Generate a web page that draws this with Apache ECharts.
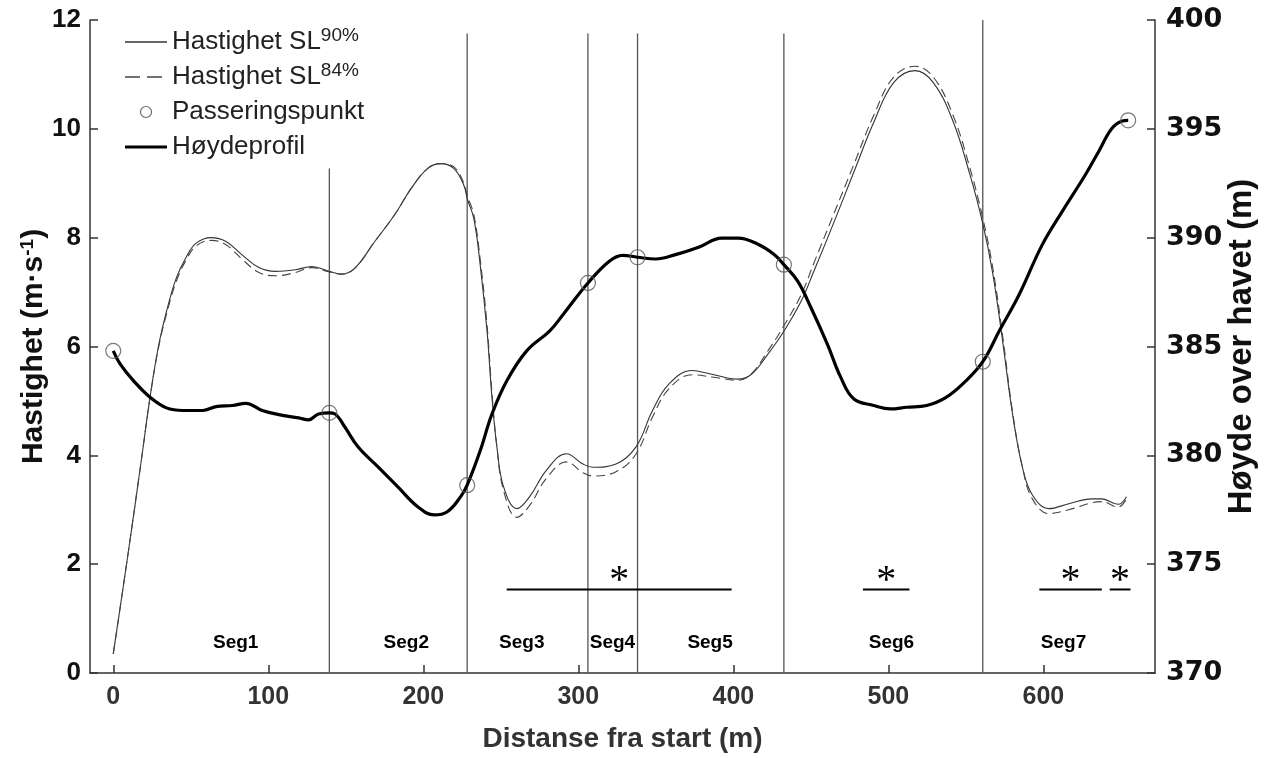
<!DOCTYPE html>
<html><head><meta charset="utf-8">
<script src="https://cdn.jsdelivr.net/npm/echarts@6/dist/echarts.min.js"></script>
<style>html,body{margin:0;padding:0;background:#fff}#c{width:1266px;height:758px}</style>
</head><body><div id="c"></div>
<script>
// ---- data ----
const distV = [0,9.6,18.4,23.7,29,34.4,40.7,47.2,53.5,63.2,72.7,83.3,94,104.7,117.5,128.1,139.4,147.3,155.9,168.7,181.5,192.1,202.7,211.3,219.8,226.2,228.3,232.6,236.7,241.1,244.3,247.5,251.8,260.3,268.6,279.5,292.3,303,309.4,324.3,337.1,347.8,358.4,373.3,386.1,403.1,411.7,422.3,432.6,443.7,452.2,465,477.8,490.6,503.4,517.2,529,541.7,552.4,560.9,567.3,573.7,580.1,586.5,592.9,603.6,616.4,631.3,637.5,648.3,653.6];
const sl90 = [0.35,2.2,3.97,5.06,5.98,6.65,7.26,7.65,7.9,8.0,7.93,7.68,7.45,7.38,7.41,7.47,7.38,7.33,7.44,7.93,8.42,8.9,9.27,9.36,9.27,8.96,8.72,8.35,7.5,6.29,5.06,4.15,3.42,3.02,3.24,3.73,4.03,3.84,3.78,3.84,4.15,4.82,5.31,5.56,5.49,5.4,5.49,5.86,6.28,6.83,7.4,8.29,9.21,10.12,10.85,11.07,10.85,10.14,9.18,8.26,7.35,6.1,4.76,3.78,3.27,3.02,3.11,3.2,3.2,3.1,3.24];
const sl84 = [0.35,2.2,3.97,5.06,5.95,6.6,7.2,7.6,7.85,7.95,7.87,7.6,7.36,7.3,7.36,7.45,7.37,7.33,7.44,7.93,8.42,8.9,9.27,9.36,9.3,9.0,8.78,8.42,7.6,6.4,5.15,4.15,3.35,2.86,3.08,3.58,3.88,3.68,3.62,3.7,4.02,4.7,5.22,5.48,5.44,5.38,5.5,5.92,6.38,6.95,7.55,8.45,9.35,10.25,10.95,11.15,10.95,10.25,9.3,8.36,7.45,6.2,4.8,3.78,3.2,2.93,3.0,3.13,3.15,3.05,3.2];
const distH = [0,4.5,13,23.7,34.3,45,57.8,66.3,76.9,85.5,96.1,106.8,119.6,126,132.4,139.4,143.1,149.5,158,170.8,183.6,196.4,207,215.5,224,228.3,236.8,244.3,253.9,266.7,281.6,290.2,306.2,320,328.6,338.2,349.9,362.7,377.6,392.5,403.1,415.9,426.5,432.6,441.5,450.1,460.7,469.3,477.8,490.6,501.2,511.9,524.7,537.5,550.2,560.9,571.6,584.4,599.3,612.1,627,635.6,644,650.4,654.7];
const hoyde = [384.8,384.19,383.43,382.67,382.18,382.06,382.06,382.24,382.29,382.39,382.06,381.87,381.72,381.63,381.9,381.95,381.9,381.29,380.38,379.47,378.55,377.64,377.26,377.41,378.09,378.63,380.23,381.9,383.43,384.8,385.72,386.47,387.92,388.92,389.19,389.1,389.02,389.22,389.56,389.98,389.98,389.7,389.22,388.76,388.0,386.78,385.1,383.58,382.59,382.29,382.13,382.21,382.29,382.67,383.43,384.3,385.72,387.39,389.68,391.2,392.88,393.95,395.0,395.35,395.39];
const passDist = [0,139.4,228.3,306.2,338.2,432.6,560.9,654.7];
const passHoyde = [384.8,381.95,378.63,387.92,389.1,388.76,384.3,395.39];
const segBounds = [139.4,228.3,306.2,338.2,432.6,560.9];
const segTops = [9.27,11.75,11.75,11.75,11.75,12];
const segNames = ['Seg1','Seg2','Seg3','Seg4','Seg5','Seg6','Seg7'];
const segNameX = [79,189,263.5,322,385,502,613];
const segNameY = 0.55;
const sigStart = [253.8,483.6,597.4,642.8];
const sigEnd = [398.9,513.6,637.7,656.2];
const sigY = 1.535;
const xTicks = [0,100,200,300,400,500,600];

// ---- chart ----
const FONT = 'Liberation Sans, Arial, sans-serif';
const chart = echarts.init(document.getElementById('c'), null, {renderer:'canvas'});
const zip = (a,b) => a.map((v,i)=>[v,b[i]]);

const option = {
  animation:false,
  backgroundColor:'#fff',
  grid:{left:90,right:103,top:20,bottom:81,containLabel:false},
  legend:{
    orient:'vertical', left:120, top:21, itemWidth:42, itemHeight:11, itemGap:6,
    itemStyle:{borderWidth:0},
    data:[
      {name:'Hastighet SL90',icon:'path://M0,0H42V1.3H0Z'},
      {name:'Hastighet SL84',icon:'path://M0,0H15V1.3H0Z M22,0H37V1.3H22Z M41.9,0H42V0.01H41.9Z'},
      {name:'Passeringspunkt',icon:'circle',itemStyle:{color:'rgba(0,0,0,0)',borderColor:'#444',borderWidth:1.2}},
      {name:'Høydeprofil',icon:'path://M0,0H42V3.2H0Z'}
    ],
    formatter:function(name){
      if(name.indexOf('Hastighet SL')===0){return '{t|Hastighet SL}{s|'+name.slice(12)+'%}';}
      return '{t|'+name+'}{s| }';
    },
    textStyle:{
      fontFamily:FONT,color:'#222',fontSize:26,
      rich:{
        t:{fontFamily:FONT,color:'#222',fontSize:26,lineHeight:32},
        s:{fontFamily:FONT,color:'#222',fontSize:19,lineHeight:14,verticalAlign:'top'}
      }
    }
  },
  xAxis:{
    type:'value',min:-15,max:672,
    axisLine:{show:true,onZero:false,lineStyle:{color:'#333',width:1.5}},
    axisTick:{show:true,inside:true,length:8,customValues:xTicks,lineStyle:{color:'#333',width:1.5}},
    axisLabel:{customValues:xTicks,fontFamily:FONT,fontWeight:'bold',fontSize:25,color:'#333',margin:12},
    splitLine:{show:false},
    name:'Distanse fra start (m)',nameLocation:'middle',nameGap:52,nameMoveOverlap:false,
    nameTextStyle:{fontFamily:FONT,fontWeight:'bold',fontSize:28,color:'#333'}
  },
  yAxis:[{
    type:'value',min:0,max:12,interval:2,position:'left',
    axisLine:{show:true,onZero:false,lineStyle:{color:'#333',width:1.5}},
    axisTick:{show:true,inside:true,length:8,lineStyle:{color:'#333',width:1.5}},
    axisLabel:{fontFamily:FONT,fontWeight:'bold',fontSize:26,color:'#111',margin:9},
    splitLine:{show:false},
    name:'{a|Hastighet (m·s}{s|-1}{a|)}',nameLocation:'middle',nameGap:40,nameRotate:90,nameMoveOverlap:false,
    nameTextStyle:{rich:{
      a:{fontFamily:FONT,fontWeight:'bold',fontSize:30,color:'#111',lineHeight:32},
      s:{fontFamily:FONT,fontWeight:'bold',fontSize:19,color:'#111',lineHeight:16,verticalAlign:'top'}
    }}
  },{
    type:'value',min:370,max:400,interval:5,position:'right',
    axisLine:{show:true,onZero:false,lineStyle:{color:'#333',width:1.5}},
    axisTick:{show:true,inside:true,length:8,lineStyle:{color:'#333',width:1.5}},
    axisLabel:{fontFamily:'DejaVu Sans, Liberation Sans, sans-serif',fontWeight:'bold',fontSize:27,color:'#111',margin:11},
    splitLine:{show:false},
    name:'Høyde over havet (m)',nameLocation:'middle',nameGap:70,nameRotate:90,nameMoveOverlap:false,
    nameTextStyle:{fontFamily:FONT,fontWeight:'bold',fontSize:33,color:'#111'}
  }],
  series:[
    {
      type:'custom',name:'segLines',yAxisIndex:0,silent:true,z:1,
      data:zip(segBounds,segTops),
      renderItem:function(params,api){
        const p0=api.coord([api.value(0),0]);const p1=api.coord([api.value(0),api.value(1)]);
        return {type:'line',shape:{x1:p0[0],y1:p0[1],x2:p1[0],y2:p1[1]},style:{stroke:'#555',lineWidth:1.3}};
      }
    },
    {
      type:'custom',name:'segNames',yAxisIndex:0,silent:true,z:3,
      data:segNameX.map((x,i)=>[x,segNameY]),
      renderItem:function(params,api){
        const p=api.coord([api.value(0),api.value(1)]);
        return {type:'text',x:p[0],y:p[1],style:{text:segNames[params.dataIndex],font:'bold 19px '+FONT,fill:'#000',align:'center',verticalAlign:'middle'}};
      }
    },
    {
      type:'custom',name:'sig',yAxisIndex:0,silent:true,z:3,
      data:sigStart.map((s,i)=>[s,sigEnd[i],sigY]),
      renderItem:function(params,api){
        const a=api.coord([api.value(0),api.value(2)]);const b=api.coord([api.value(1),api.value(2)]);
        return {type:'group',children:[
          {type:'line',shape:{x1:a[0],y1:a[1],x2:b[0],y2:b[1]},style:{stroke:'#000',lineWidth:2}},
          {type:'text',x:(a[0]+b[0])/2,y:a[1]+12,style:{text:'*',font:'40px Liberation Serif, Times New Roman, serif',fill:'#000',align:'center',verticalAlign:'bottom'}}
        ]};
      }
    },
    {
      name:'Hastighet SL90',type:'line',yAxisIndex:0,data:zip(distV,sl90),smooth:0.4,showSymbol:false,symbol:'none',z:4,
      lineStyle:{color:'#333',width:1.1,type:'solid'},itemStyle:{color:'#333'}
    },
    {
      name:'Hastighet SL84',type:'line',yAxisIndex:0,data:zip(distV,sl84),smooth:0.4,showSymbol:false,symbol:'none',z:4,
      lineStyle:{color:'#444',width:1.1,type:[9,5]},itemStyle:{color:'#444'}
    },
    {
      name:'Høydeprofil',type:'line',yAxisIndex:1,data:zip(distH,hoyde),smooth:0.4,showSymbol:false,symbol:'none',z:5,
      lineStyle:{color:'#000',width:3.2},itemStyle:{color:'#000'}
    },
    {
      name:'Passeringspunkt',type:'scatter',yAxisIndex:1,data:zip(passDist,passHoyde),symbol:'circle',symbolSize:15,z:6,
      itemStyle:{color:'rgba(0,0,0,0)',borderColor:'#555',borderWidth:1.2}
    }
  ]
};
chart.setOption(option);
</script>
</body></html>
